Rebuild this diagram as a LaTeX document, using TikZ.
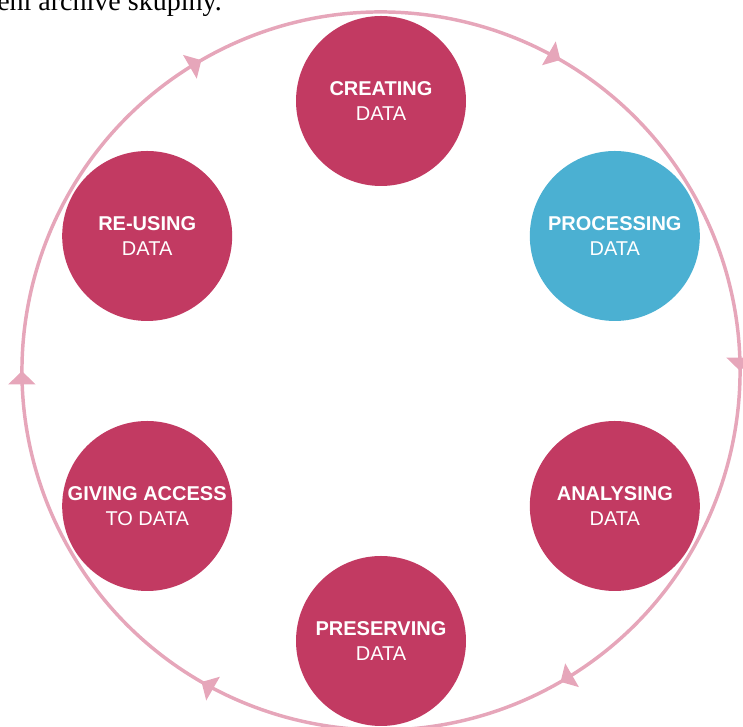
\documentclass[tikz,border=0pt]{standalone}
\usepackage{fontspec}
\setmainfont{Liberation Sans}
\newfontfamily\captionfont{Liberation Serif}
\usetikzlibrary{positioning, arrows.meta, decorations.markings}
\definecolor{crimson}{HTML}{C23A62}
\definecolor{skyblue}{HTML}{4BB0D2}
\definecolor{ringpink}{HTML}{E6A6BA}
\tikzset{
  stage/.style={circle, minimum size=127.5pt, inner sep=0pt, fill=crimson, text=white, align=center, font=\fontsize{15}{18.75}\selectfont},
  cycle ring/.style={draw=ringpink, line width=2.6pt, postaction={decorate},
    decoration={markings, mark=between positions 1/12 and 1 step 1/6 with {\arrow[ringpink]{Triangle[length=10pt,width=20pt]}}}}
}

\begin{document}
\begin{tikzpicture}[x=0.75pt, y=0.75pt]
  \useasboundingbox (0,0) rectangle (743,727);
  \clip (0,0) rectangle (743,727);
  %text cut off at the top
  \node (caption) [anchor=base west, inner sep=0pt, font=\captionfont\fontsize{21}{21}\selectfont] at (-3,716) {ení archive skupiny.};
  %ring with arrows
  \coordinate (hub) at (381,356);
  \draw [cycle ring] ([shift={(30:359)}]hub) arc[start angle=30, end angle=-330, radius=269.25pt];
  %stages of the cycle
  \node (creating) [stage] at ([shift={(90:270)}]hub) {\textbf{CREATING}\\DATA};
  \node (processing) [stage, fill=skyblue] at ([shift={(30:270)}]hub) {\textbf{PROCESSING}\\DATA};
  \node (analysing) [stage] at ([shift={(-30:270)}]hub) {\textbf{ANALYSING}\\DATA};
  \node (preserving) [stage] at ([shift={(-90:270)}]hub) {\textbf{PRESERVING}\\DATA};
  \node (giving) [stage] at ([shift={(210:270)}]hub) {\textbf{GIVING ACCESS}\\TO DATA};
  \node (reusing) [stage] at ([shift={(150:270)}]hub) {\textbf{RE-USING}\\DATA};
\end{tikzpicture}
\end{document}
